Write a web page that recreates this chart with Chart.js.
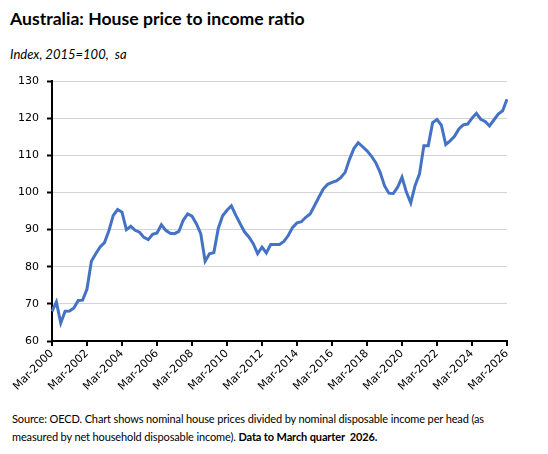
<!DOCTYPE html>
<html>
<head>
<meta charset="utf-8">
<script src="https://cdn.jsdelivr.net/npm/chart.js@4.4.1/dist/chart.umd.min.js"></script>
<style>
  body { margin: 0; width: 548px; height: 454px; background: #fff; position: relative; overflow: hidden; }
  #title { position: absolute; left: 10px; top: 8px; font: bold 17.6px Lato, sans-serif; color: #000; }
  #sub { position: absolute; left: 10px; top: 46px; font: italic 13px Lato, sans-serif; color: #000; }
  #wrap { position: absolute; left: 0; top: 60px; width: 548px; height: 345px; }
  #note { position: absolute; left: 12px; top: 410px; font: 11px Lato, sans-serif; letter-spacing: -0.13px; line-height: 18px; color: #000; }
</style>
</head>
<body>
<div id="title">Australia: House price to income ratio</div>
<div id="sub">Index, 2015=100,&nbsp; sa</div>
<div id="wrap"><canvas id="chart"></canvas></div>
<div id="note">Source: OECD. Chart shows nominal house prices divided by nominal disposable income per head (as<br>measured by net household disposable income). <b>Data to March quarter&nbsp; 2026.</b></div>
<script>
"use strict";

// kvartal: Mar-2000 .. Mar-2026
const years = [2000, 2001, 2002, 2003, 2004, 2005, 2006, 2007, 2008, 2009, 2010, 2011, 2012,
  2013, 2014, 2015, 2016, 2017, 2018, 2019, 2020, 2021, 2022, 2023, 2024, 2025, 2026];
const months = ["Mar", "Jun", "Sep", "Dec"];

// index, 2015=100
const ratio = [
  68.0, 70.5, 64.8, 68.0, 68.1, 68.9, 70.9, 71.0, 74.0, 81.5,
  83.5, 85.3, 86.5, 89.7, 93.8, 95.4, 94.7, 90.0, 90.9, 89.8,
  89.3, 87.9, 87.3, 88.7, 89.1, 91.3, 89.8, 89.0, 88.9, 89.5,
  92.5, 94.2, 93.6, 91.6, 88.9, 81.5, 83.5, 83.8, 90.3, 93.7,
  95.2, 96.4, 93.9, 91.6, 89.4, 88.0, 86.2, 83.5, 85.3, 83.7,
  86.0, 86.0, 86.0, 86.8, 88.4, 90.6, 91.8, 92.1, 93.3, 94.2,
  96.4, 98.7, 100.9, 102.2, 102.7, 103.1, 104.0, 105.4, 108.9, 111.8,
  113.4, 112.3, 111.2, 109.8, 108.0, 105.4, 101.8, 99.8, 99.7, 101.4,
  104.1, 100.1, 97.2, 101.9, 105.0, 112.6, 112.6, 118.8, 119.6, 118.1,
  112.9, 113.9, 115.1, 117.1, 118.2, 118.4, 120.0, 121.3, 119.7, 119.1,
  117.9, 119.5, 121.1, 122.0, 125.1
];

const tickLabels = ["Mar-2000", "Mar-2002", "Mar-2004", "Mar-2006", "Mar-2008", "Mar-2010",
  "Mar-2012", "Mar-2014", "Mar-2016", "Mar-2018", "Mar-2020", "Mar-2022", "Mar-2024", "Mar-2026"];

const yMin = 60, yMax = 130, yStep = 10;

// bygg kategorierna
const labels = [];
years.forEach((y) => {
  months.forEach((m) => {
    if (labels.length < ratio.length) labels.push(m + "-" + y);
  });
});

const tickFont = { family: "'DejaVu Sans', sans-serif", size: 11 };

new Chart(document.getElementById("chart"), {
  type: "line",
  data: {
    labels: labels,
    datasets: [{
      data: ratio,
      borderColor: "#4472C4",
      borderWidth: 3,
      pointRadius: 0,
      tension: 0,
      fill: false
    }]
  },
  options: {
    responsive: true,
    maintainAspectRatio: false,
    animation: false,
    events: [],
    layout: { padding: { top: 21, right: 41, bottom: 0, left: 0 } },
    plugins: { legend: { display: false }, tooltip: { enabled: false } },
    scales: {
      x: {
        afterFit: (s) => { s.height = 64; },
        grid: { drawOnChartArea: false, color: "#000", lineWidth: 2, tickLength: 5 },
        border: { color: "#000", width: 2 },
        ticks: {
          autoSkip: false,
          maxRotation: 45,
          minRotation: 45,
          color: "#000",
          font: tickFont,
          padding: 1,
          callback: function (value) {
            const lab = this.getLabelForValue(value);
            return tickLabels.includes(lab) ? lab : null;
          }
        }
      },
      y: {
        min: yMin,
        max: yMax,
        afterFit: (s) => { s.width = 52; },
        grid: { color: "#d4d4d4", lineWidth: 1, tickColor: "#000", tickLength: 5, tickWidth: 2 },
        border: { color: "#000", width: 2 },
        ticks: { stepSize: yStep, color: "#000", font: tickFont, padding: 8 }
      }
    }
  }
});
</script>
</body>
</html>
